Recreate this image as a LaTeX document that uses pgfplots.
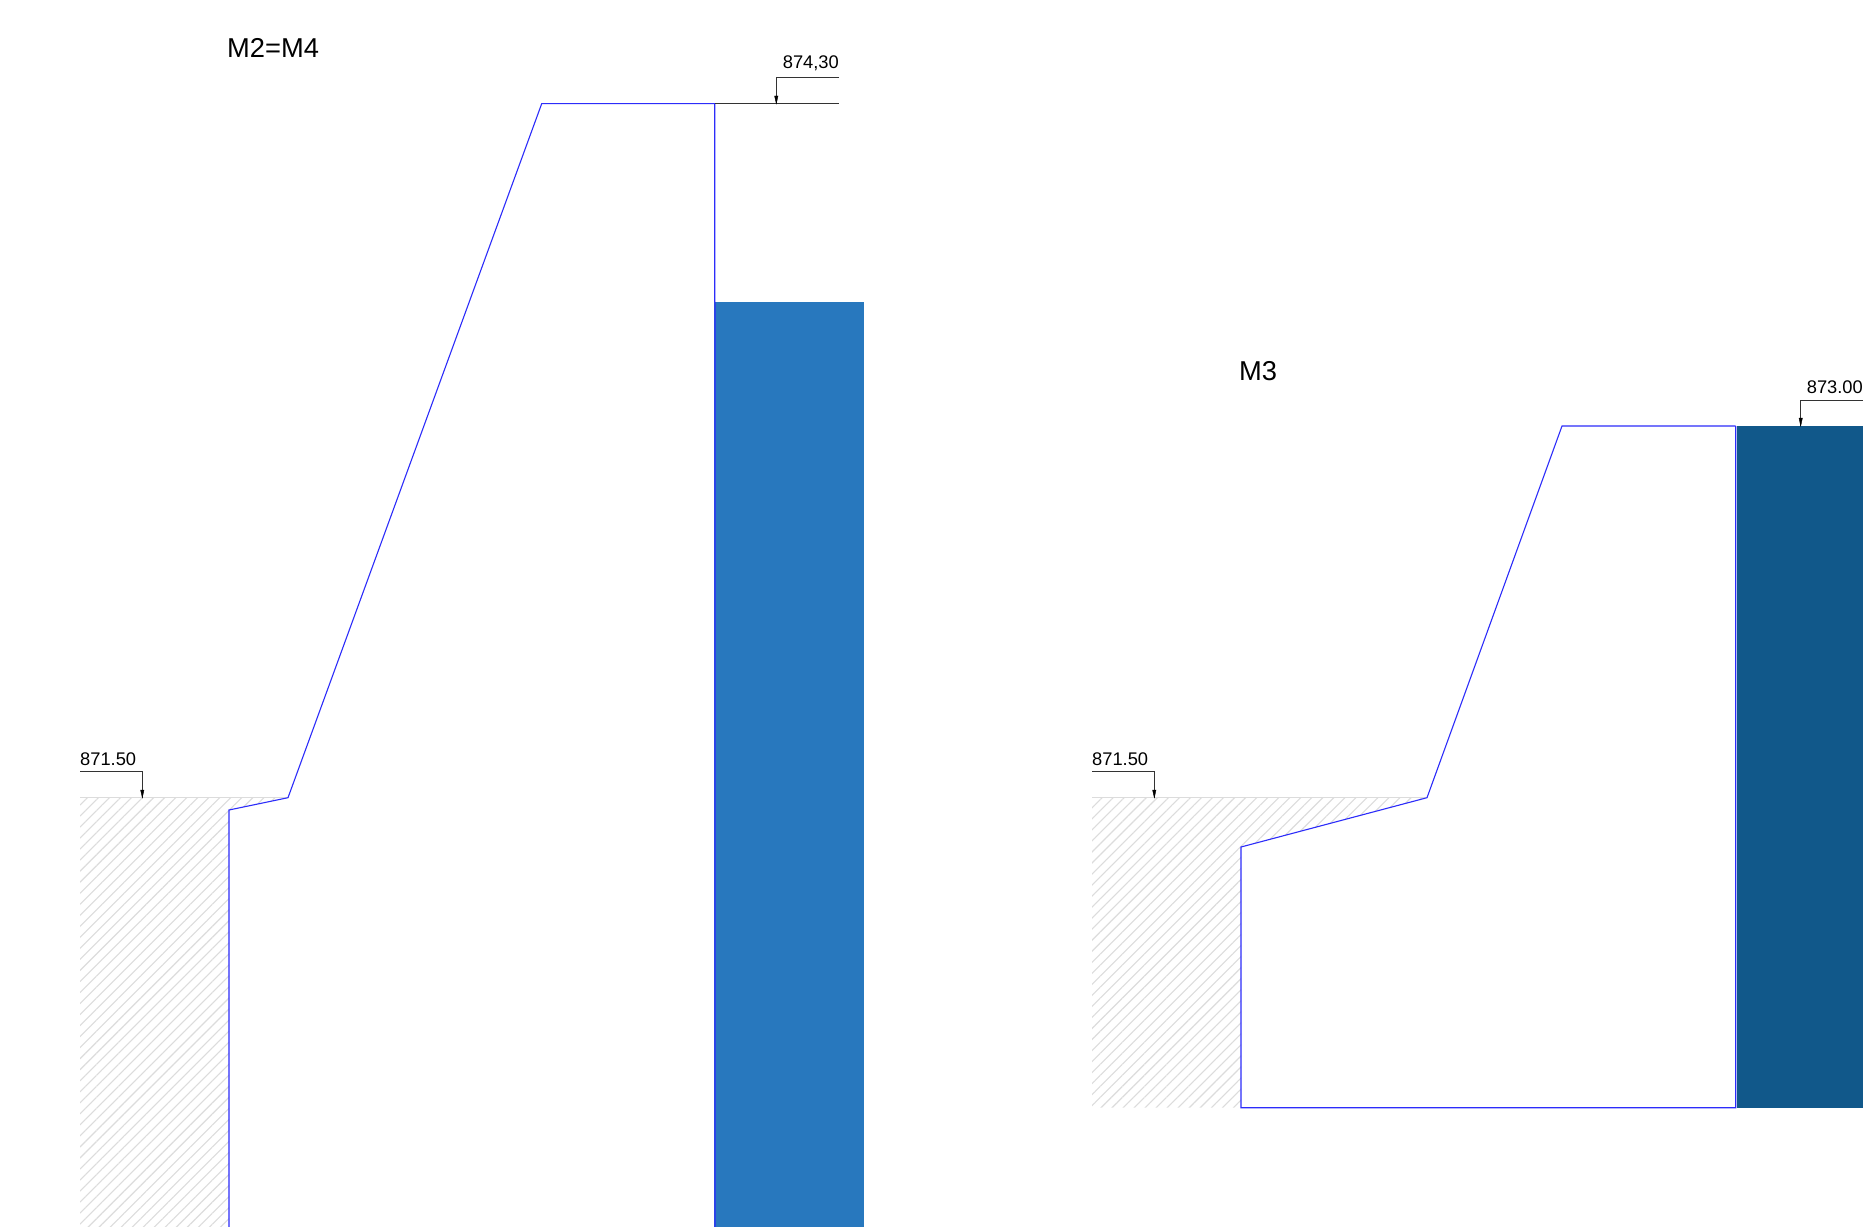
\documentclass[border=0pt]{standalone}
\usepackage{fontspec}
\setmainfont{Liberation Sans}
\usepackage{pgfplots}
\pgfplotsset{compat=1.18}
\usetikzlibrary{patterns.meta}
\definecolor{cad}{HTML}{2C2CFA}
\definecolor{wallA}{HTML}{2878BE}
\definecolor{wallB}{HTML}{11588A}
\definecolor{hatch}{HTML}{DCDCDC}
\begin{document}
\begin{tikzpicture}
\begin{axis}[
  scale only axis, width=1863bp, height=1227bp,
  xmin=0, xmax=1863, ymin=0, ymax=1227, y dir=reverse,
  hide axis, clip=true,
  every axis plot/.append style={line join=miter},
  tick=none]
\addplot[draw=none, fill=white] coordinates {(0,0)(1863,0)(1863,1227)(0,1227)} -- cycle;
% hatched ground
\addplot[draw=none, pattern={Lines[angle=45,distance=7.8bp,line width=1.1bp]}, pattern color=hatch] coordinates {(80,797.7)(288,797.7)(229,810)(229,1227)(80,1227)} -- cycle;
\addplot[draw=none, pattern={Lines[angle=45,distance=7.8bp,line width=1.1bp]}, pattern color=hatch] coordinates {(1092,797.7)(1427,797.7)(1241,847)(1241,1107.7)(1092,1107.7)} -- cycle;
\addplot[hatch, line width=1bp] coordinates {(80,797.7)(288,797.7)};
\addplot[hatch, line width=1bp] coordinates {(1092,797.7)(1427,797.7)};
% section outlines
\addplot[cad, line width=1.1bp] coordinates {(229,1227)(229,810)(288,797.7)(541.7,103.7)(714.7,103.7)(714.7,1227)};
\addplot[cad, line width=1.1bp] coordinates {(1735.7,426)(1562,426)(1427,797.7)(1241,847)(1241,1107.7)(1735.7,1107.7)(1735.7,426)};
% walls
\addplot[draw=none, fill=wallA] coordinates {(715,301.7)(864,301.7)(864,1227)(715,1227)} -- cycle;
\addplot[draw=none, fill=wallB] coordinates {(1737,425.5)(1863,425.5)(1863,1107.7)(1737,1107.7)} -- cycle;
\addplot[cad!70!wallA, line width=1.5bp] coordinates {(715,301.7)(715,1227)};
% level marks
\addplot[black!80, line width=1bp] coordinates {(714.7,103.7)(839,103.7)};
\addplot[black!80, line width=0.9bp] coordinates {(839,77.3)(776.3,77.3)(776.3,103.7)};
\addplot[black, fill=black] coordinates {(774.6,96)(778,96)(776.3,103.7)} -- cycle;
\addplot[black!80, line width=0.9bp] coordinates {(80,771.3)(142.3,771.3)(142.3,797.7)};
\addplot[black, fill=black] coordinates {(140.6,790)(144,790)(142.3,797.7)} -- cycle;
\addplot[black!80, line width=0.9bp] coordinates {(1092,771.3)(1154.3,771.3)(1154.3,797.7)};
\addplot[black, fill=black] coordinates {(1152.6,790)(1156,790)(1154.3,797.7)} -- cycle;
\addplot[black!80, line width=0.9bp] coordinates {(1863,400)(1800.7,400)(1800.7,426)};
\addplot[black, fill=black] coordinates {(1799,418)(1802.4,418)(1800.7,426)} -- cycle;
% texts
\node[anchor=base east, inner sep=0pt, font=\fontsize{18.3bp}{22bp}\selectfont] at (axis cs:839,68.5) {874,30};
\node[anchor=base west, inner sep=0pt, font=\fontsize{18.3bp}{22bp}\selectfont] at (axis cs:80,765) {871.50};
\node[anchor=base west, inner sep=0pt, font=\fontsize{18.3bp}{22bp}\selectfont] at (axis cs:1092,765) {871.50};
\node[anchor=base east, inner sep=0pt, font=\fontsize{18.3bp}{22bp}\selectfont] at (axis cs:1863,393) {873.00};
\node[anchor=base west, inner sep=0pt, font=\fontsize{27.3bp}{32bp}\selectfont] at (axis cs:227,58) {M2=M4};
\node[anchor=base west, inner sep=0pt, font=\fontsize{27.3bp}{32bp}\selectfont] at (axis cs:1239,381) {M3};
\end{axis}
\end{tikzpicture}
\end{document}
